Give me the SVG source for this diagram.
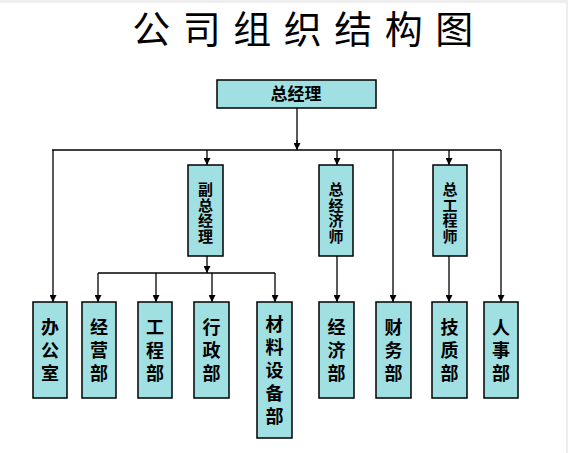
<svg xmlns="http://www.w3.org/2000/svg" width="568" height="453" viewBox="0 0 568 453">
<defs>
<marker id="arr" viewBox="0 0 10 10" refX="10" refY="5" markerWidth="7" markerHeight="7" markerUnits="userSpaceOnUse" orient="auto">
<path d="M0,0 L10,5 L0,10 z" fill="#000"/>
</marker>
<style>
.box{fill:#A0E0E2;stroke:#000;stroke-width:1.5}
.t{font-family:"SimSun","Noto Sans CJK SC",sans-serif;font-weight:bold;fill:#000;text-anchor:middle}
.v{writing-mode:vertical-rl}
.b{font-size:18px;letter-spacing:5px}
.m{font-size:15px;letter-spacing:0.5px}
.ln{stroke:#000;stroke-width:1.3;fill:none}
.ar{stroke:#000;stroke-width:1.3;fill:none;marker-end:url(#arr)}
</style>
</defs>
<rect x="0" y="0" width="568" height="453" fill="#fff"/>
<rect x="0" y="0" width="568" height="3" fill="#eeeeee"/>
<rect x="566" y="0" width="2" height="453" fill="#eeeeee"/>
<text x="309" y="43" font-family="'Noto Sans CJK SC',sans-serif" font-size="38" text-anchor="middle" letter-spacing="12.5" fill="#000">公司组织结构图</text>

<g id="connectors">
<line class="ln" x1="297" y1="108" x2="297" y2="143"/>
<path class="ar" d="M297,140 L297,150"/>
<line class="ln" x1="52" y1="150" x2="501" y2="150"/>
<line class="ar" x1="53" y1="150" x2="53" y2="302"/>
<line class="ar" x1="501" y1="150" x2="501" y2="302"/>
<line class="ar" x1="207" y1="150" x2="207" y2="165"/>
<line class="ar" x1="337" y1="150" x2="337" y2="165"/>
<line class="ar" x1="449" y1="150" x2="449" y2="165"/>
<line class="ar" x1="393" y1="150" x2="393" y2="302"/>
<line class="ar" x1="207" y1="256" x2="207" y2="273"/>
<line class="ln" x1="98" y1="273" x2="275" y2="273"/>
<line class="ar" x1="98" y1="273" x2="98" y2="302"/>
<line class="ar" x1="156" y1="273" x2="156" y2="302"/>
<line class="ar" x1="212" y1="273" x2="212" y2="302"/>
<line class="ar" x1="275" y1="273" x2="275" y2="302"/>
<line class="ar" x1="337" y1="256" x2="337" y2="302"/>
<line class="ar" x1="449" y1="256" x2="449" y2="302"/>
</g>

<g id="gm"><rect class="box" x="217" y="80" width="159" height="28"/><text class="t" x="296" y="100" font-size="17">总经理</text></g>

<g id="fzjl"><rect class="box" x="188" y="165" width="35" height="91"/><text class="t v m" x="205.5" y="213">副总经理</text></g>
<g id="zjjs"><rect class="box" x="319" y="165" width="34" height="91"/><text class="t v m" x="336" y="213">总经济师</text></g>
<g id="zgcs"><rect class="box" x="433" y="165" width="34" height="91"/><text class="t v m" x="450" y="213">总工程师</text></g>

<g id="bgs"><rect class="box" x="33" y="302" width="34" height="96"/><text class="t v b" x="50" y="352.5">办公室</text></g>
<g id="jyb"><rect class="box" x="82" y="302" width="34" height="96"/><text class="t v b" x="99" y="352.5">经营部</text></g>
<g id="gcb"><rect class="box" x="138" y="302" width="34" height="96"/><text class="t v b" x="155" y="352.5">工程部</text></g>
<g id="xzb"><rect class="box" x="194" y="302" width="35" height="96"/><text class="t v b" x="211.5" y="352.5">行政部</text></g>
<g id="clsbb"><rect class="box" x="257" y="302" width="35" height="136"/><text class="t v b" x="274.5" y="373">材料设备部</text></g>
<g id="jjb"><rect class="box" x="319" y="302" width="35" height="96"/><text class="t v b" x="336.5" y="352.5">经济部</text></g>
<g id="cwb"><rect class="box" x="376" y="302" width="35" height="96"/><text class="t v b" x="393.5" y="352.5">财务部</text></g>
<g id="jzb"><rect class="box" x="432" y="302" width="35" height="96"/><text class="t v b" x="449.5" y="352.5">技质部</text></g>
<g id="rsb"><rect class="box" x="484" y="302" width="34" height="96"/><text class="t v b" x="501" y="352.5">人事部</text></g>
</svg>
